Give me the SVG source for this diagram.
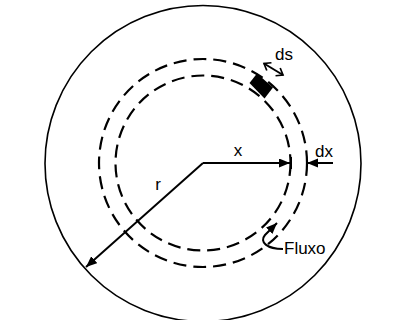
<svg xmlns="http://www.w3.org/2000/svg" width="395" height="320" viewBox="0 0 395 320">
  <defs>
    <marker id="arr" markerUnits="userSpaceOnUse" markerWidth="12" markerHeight="10" refX="11" refY="4.5" orient="auto">
      <path d="M0,0 L11,4.5 L0,9 z" fill="#000"/>
    </marker>
    <marker id="open" markerUnits="userSpaceOnUse" markerWidth="10" markerHeight="12" refX="7" refY="5.5" orient="auto-start-reverse">
      <path d="M1,1 L7,5.5 L1,10" fill="none" stroke="#000" stroke-width="1.7"/>
    </marker>
    <style>
      .ring{fill:none;stroke:#000;stroke-width:1.6}
      .dash{fill:none;stroke:#000;stroke-width:2.2;stroke-dasharray:13 7}
      .ln{fill:none;stroke:#000;stroke-width:2}
      .lbl{font-family:"Liberation Sans",Arial,sans-serif;font-size:17px;fill:#000}
    </style>
  </defs>
  <rect width="395" height="320" fill="#fff"/>
  <g id="outer-circle">
    <circle class="ring" cx="203" cy="163.5" r="158"/>
  </g>
  <g id="ring-outer">
    <circle class="dash" cx="203" cy="163" r="104"/>
  </g>
  <g id="ring-inner">
    <circle class="dash" cx="203" cy="163" r="87.5"/>
  </g>
  <g id="element">
    <polygon points="249.5,83 257,73.5 273,87.5 264.5,98.5" fill="#000"/>
  </g>
  <g id="connectors">
    <line class="ln" x1="203" y1="163" x2="290" y2="163" marker-end="url(#arr)"/>
    <line class="ln" x1="291" y1="157" x2="291" y2="169"/>
    <line class="ln" x1="333" y1="163" x2="307" y2="163" marker-end="url(#arr)"/>
    <line class="ln" x1="203" y1="163" x2="86" y2="267" marker-end="url(#arr)"/>
    <line class="ln" x1="264" y1="63.5" x2="283" y2="75" marker-start="url(#open)" marker-end="url(#open)" stroke-width="1.7"/>
    <path class="ln" d="M283,249 C267,249 259,242 265,235 L277,223" marker-end="url(#arr)"/>
  </g>
  <g id="labels">
    <text class="lbl" x="238" y="156" text-anchor="middle">x</text>
    <text class="lbl" x="324" y="157" text-anchor="middle">dx</text>
    <text class="lbl" x="158" y="190" text-anchor="middle">r</text>
    <text class="lbl" x="284" y="60" text-anchor="middle">ds</text>
    <text class="lbl" x="284" y="254">Fluxo</text>
  </g>
</svg>
